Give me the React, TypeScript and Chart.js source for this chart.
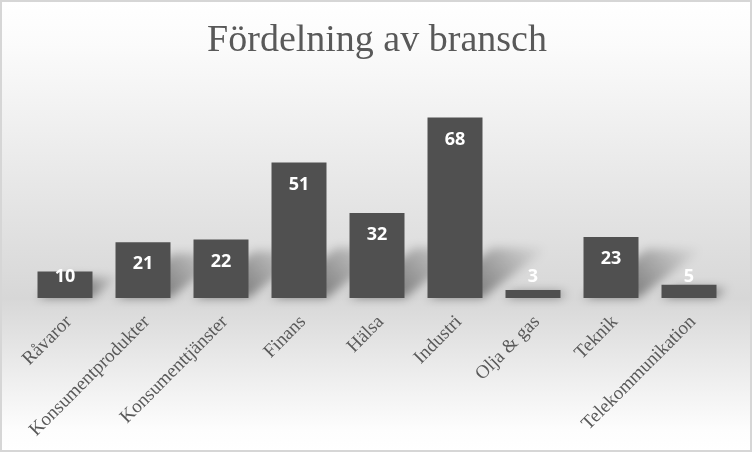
import React, { useEffect, useRef } from 'react';
import Chart from 'chart.js/auto';

const categories = [
  'Råvaror',
  'Konsumentprodukter',
  'Konsumenttjänster',
  'Finans',
  'Hälsa',
  'Industri',
  'Olja & gas',
  'Teknik',
  'Telekommunikation',
];
const counts = [10, 21, 22, 51, 32, 68, 3, 23, 5];
const yMax = 80;

// bakgrund + ram
const backgroundPlugin = {
  id: 'bg',
  beforeDraw(chart: any) {
    const { ctx, width, height } = chart;
    const g = ctx.createLinearGradient(0, 0, 0, height);
    g.addColorStop(0, '#ffffff');
    g.addColorStop(0.1, '#fbfbfb');
    g.addColorStop(0.66, '#d7d7d7');
    g.addColorStop(0.95, '#fdfdfd');
    g.addColorStop(1, '#ffffff');
    ctx.save();
    ctx.fillStyle = g;
    ctx.fillRect(0, 0, width, height);
    ctx.strokeStyle = '#d6d6d6';
    ctx.lineWidth = 2;
    ctx.strokeRect(1, 1, width - 2, height - 2);
    ctx.restore();
  },
};

// perspektivskugga bakom staplarna
const shadowPlugin = {
  id: 'barShadow',
  beforeDatasetsDraw(chart: any) {
    const { ctx } = chart;
    const meta = chart.getDatasetMeta(0);
    ctx.save();
    ctx.filter = 'blur(5px)';
    meta.data.forEach((bar: any) => {
      const { x, y, base, width } = bar.getProps(['x', 'y', 'base', 'width'], true);
      const h = base - y;
      const dy = Math.min(h * 0.8, 50);
      const dx = dy * 1.3;
      const xl = x - width / 2;
      const xr = x + width / 2;
      const g = ctx.createLinearGradient(xr, base, xr + dx, base - dy);
      g.addColorStop(0, 'rgba(0,0,0,0.4)');
      g.addColorStop(1, 'rgba(0,0,0,0)');
      ctx.fillStyle = g;
      ctx.beginPath();
      ctx.moveTo(xl, base);
      ctx.lineTo(xr, base);
      ctx.lineTo(xr + dx, base - dy);
      ctx.lineTo(xl + dx, base - dy);
      ctx.closePath();
      ctx.fill();
    });
    ctx.restore();
  },
};

// vita etiketter i staplarna
const labelPlugin = {
  id: 'barLabels',
  afterDatasetsDraw(chart: any) {
    const { ctx } = chart;
    const meta = chart.getDatasetMeta(0);
    ctx.save();
    ctx.fillStyle = '#ffffff';
    ctx.font = 'bold 18px "Open Sans"';
    ctx.textAlign = 'center';
    ctx.textBaseline = 'middle';
    meta.data.forEach((bar: any, i: number) => {
      const { x, y, base } = bar.getProps(['x', 'y', 'base'], true);
      const ly = Math.min(y + 22, base - 21);
      ctx.fillText(String(counts[i]), x, ly);
    });
    ctx.restore();
  },
};

const App: React.FC = () => {
  const chartRef = useRef<HTMLCanvasElement | null>(null);
  const chartInstance = useRef<Chart | null>(null);

  useEffect(() => {
    if (!chartRef.current) return;
    if (chartInstance.current) chartInstance.current.destroy();
    const ctx = chartRef.current.getContext('2d');
    if (!ctx) return;

    chartInstance.current = new Chart(ctx, {
      type: 'bar',
      data: {
        labels: categories,
        datasets: [
          {
            data: counts,
            backgroundColor: '#505050',
            borderWidth: 0,
            barPercentage: 1,
            categoryPercentage: 0.705,
          },
        ],
      },
      plugins: [backgroundPlugin, shadowPlugin, labelPlugin],
      options: {
        responsive: true,
        maintainAspectRatio: false,
        animation: false,
        layout: { padding: { left: 26, right: 24, top: 0, bottom: 0 } },
        plugins: {
          legend: { display: false },
          tooltip: { enabled: false },
          title: {
            display: true,
            text: 'Fördelning av bransch',
            color: '#595959',
            font: { family: '"Liberation Serif"', size: 38, weight: 'normal' },
            padding: { top: 18, bottom: 22 },
          },
        },
        scales: {
          x: {
            grid: { display: false, drawTicks: false },
            border: { display: false },
            afterFit(scale: any) {
              scale.height = 154;
            },
            ticks: {
              color: '#595959',
              font: { family: '"Liberation Serif"', size: 19 },
              maxRotation: 45,
              minRotation: 45,
              padding: 13,
              labelOffset: 4,
              autoSkip: false,
            },
          },
          y: { display: false, min: 0, max: yMax },
        },
      },
    });

    return () => {
      if (chartInstance.current) {
        chartInstance.current.destroy();
        chartInstance.current = null;
      }
    };
  }, []);

  return (
    <div style={{ position: 'absolute', left: 0, top: 0, width: 752, height: 452 }}>
      <canvas ref={chartRef} />
    </div>
  );
};

export default App;
